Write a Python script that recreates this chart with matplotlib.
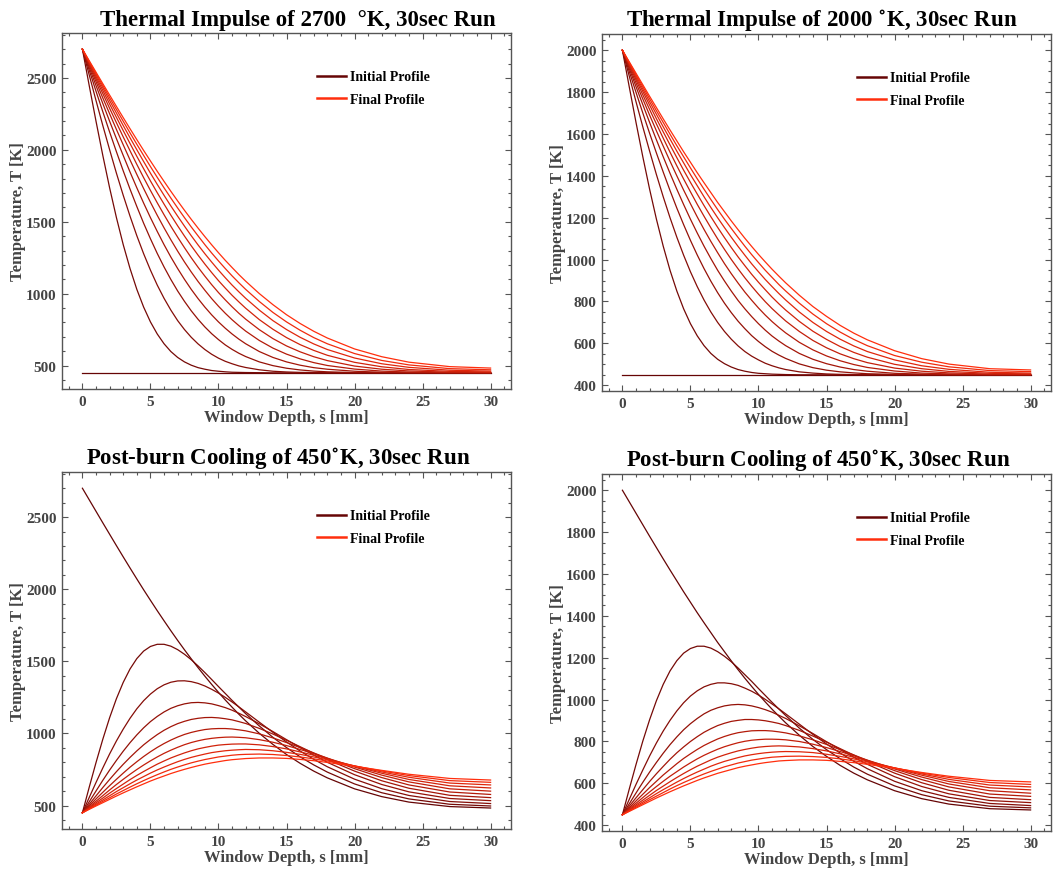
import numpy as np
import matplotlib
matplotlib.use('Agg')
import matplotlib.pyplot as plt
from matplotlib.ticker import MultipleLocator

plt.rcParams['font.family'] = ['Liberation Serif', 'DejaVu Serif']
plt.rcParams['font.weight'] = 'bold'
plt.rcParams['mathtext.fontset'] = 'dejavuserif'

# window depth [mm] at which the profiles were read
depth = [0, 0.5, 1, 1.5, 2, 2.5, 3, 3.5, 4, 4.5, 5, 5.5, 6, 6.5, 7, 7.5, 8, 8.5, 9, 9.5,
         10, 10.5, 11, 11.5, 12, 13, 14, 15, 16, 17, 18, 20, 22, 24, 27, 30]

# heating, 2700 K surface (initial flat profile first, then every 3 s)
heat_2700 = [
    [450] * 36,
    [2700, 2447, 2199, 1961, 1736, 1529, 1341, 1175, 1030, 907, 804, 720, 652, 598, 557, 526, 503, 486, 475, 466, 461, 457, 454, 453, 452, 451, 450, 450, 450, 450, 450, 450, 450, 450, 450, 450],
    [2700, 2521, 2343, 2169, 2001, 1838, 1684, 1539, 1403, 1278, 1164, 1060, 968, 886, 813, 751, 697, 651, 612, 579, 552, 530, 513, 498, 487, 471, 461, 456, 453, 452, 451, 450, 450, 450, 450, 450],
    [2700, 2554, 2408, 2265, 2124, 1987, 1854, 1727, 1606, 1490, 1382, 1280, 1186, 1099, 1019, 947, 881, 822, 769, 722, 681, 644, 613, 586, 563, 526, 500, 482, 470, 462, 457, 452, 451, 450, 450, 450],
    [2700, 2573, 2447, 2322, 2199, 2078, 1961, 1846, 1736, 1630, 1529, 1433, 1341, 1255, 1175, 1100, 1030, 966, 907, 853, 804, 760, 720, 684, 652, 598, 557, 526, 503, 486, 475, 461, 454, 452, 450, 450],
    [2700, 2587, 2474, 2361, 2251, 2142, 2035, 1930, 1829, 1731, 1636, 1545, 1458, 1375, 1296, 1221, 1151, 1085, 1024, 966, 913, 864, 819, 778, 740, 675, 622, 580, 547, 521, 501, 476, 462, 455, 452, 451],
    [2700, 2596, 2493, 2391, 2289, 2189, 2090, 1994, 1899, 1807, 1718, 1632, 1549, 1469, 1393, 1320, 1250, 1184, 1122, 1063, 1008, 957, 909, 864, 823, 750, 688, 637, 596, 562, 535, 497, 475, 463, 454, 452],
    [2700, 2604, 2508, 2413, 2319, 2226, 2134, 2044, 1955, 1869, 1784, 1702, 1623, 1546, 1472, 1401, 1333, 1268, 1206, 1147, 1091, 1039, 989, 943, 899, 820, 753, 695, 646, 606, 572, 523, 492, 473, 460, 456],
    [2700, 2610, 2521, 2432, 2343, 2256, 2169, 2084, 2001, 1919, 1838, 1760, 1684, 1610, 1539, 1470, 1403, 1339, 1278, 1220, 1164, 1111, 1060, 1013, 968, 886, 813, 751, 697, 651, 612, 553, 513, 488, 468, 462],
    [2700, 2615, 2531, 2447, 2363, 2281, 2199, 2118, 2039, 1961, 1884, 1809, 1736, 1665, 1596, 1529, 1464, 1402, 1341, 1283, 1228, 1175, 1124, 1076, 1030, 946, 870, 804, 746, 695, 652, 584, 536, 505, 479, 471],
    [2700, 2620, 2540, 2460, 2381, 2302, 2224, 2147, 2071, 1996, 1923, 1851, 1781, 1712, 1645, 1580, 1517, 1456, 1397, 1340, 1285, 1232, 1182, 1133, 1087, 1001, 924, 854, 793, 739, 692, 616, 562, 524, 493, 483],
]

# heating, 2000 K surface
heat_2000 = [
    [450] * 36,
    [2000, 1826, 1655, 1491, 1336, 1193, 1064, 949, 850, 765, 694, 636, 589, 552, 524, 503, 487, 475, 467, 461, 457, 455, 453, 452, 451, 450, 450, 450, 450, 450, 450, 450, 450, 450, 450, 450],
    [2000, 1877, 1754, 1634, 1518, 1406, 1300, 1200, 1107, 1021, 942, 871, 807, 750, 700, 657, 620, 588, 561, 539, 521, 505, 493, 483, 475, 464, 458, 454, 452, 451, 450, 450, 450, 450, 450, 450],
    [2000, 1899, 1799, 1700, 1603, 1509, 1418, 1330, 1246, 1167, 1092, 1022, 957, 897, 842, 792, 747, 706, 670, 637, 609, 584, 562, 544, 528, 502, 484, 472, 464, 459, 455, 452, 451, 450, 450, 450],
    [2000, 1913, 1826, 1740, 1655, 1572, 1491, 1412, 1336, 1263, 1193, 1127, 1064, 1005, 949, 898, 850, 805, 765, 728, 694, 663, 635, 611, 589, 552, 524, 503, 487, 475, 467, 457, 453, 451, 450, 450],
    [2000, 1922, 1844, 1767, 1690, 1615, 1542, 1470, 1400, 1332, 1267, 1204, 1144, 1087, 1033, 981, 933, 888, 845, 806, 769, 735, 704, 676, 650, 605, 569, 540, 517, 499, 485, 468, 458, 454, 451, 450],
    [2000, 1929, 1858, 1787, 1717, 1648, 1580, 1513, 1448, 1385, 1324, 1264, 1207, 1152, 1099, 1049, 1001, 956, 913, 873, 835, 799, 766, 736, 707, 657, 614, 579, 550, 527, 508, 482, 467, 459, 453, 452],
    [2000, 1934, 1868, 1803, 1738, 1673, 1610, 1548, 1487, 1427, 1369, 1313, 1258, 1205, 1154, 1105, 1058, 1013, 971, 930, 892, 856, 821, 789, 759, 705, 658, 619, 585, 557, 534, 500, 479, 466, 457, 454],
    [2000, 1938, 1877, 1815, 1754, 1694, 1634, 1576, 1518, 1462, 1406, 1353, 1300, 1249, 1200, 1153, 1107, 1063, 1021, 980, 942, 905, 871, 838, 807, 750, 700, 657, 620, 588, 561, 521, 493, 476, 462, 458],
    [2000, 1942, 1884, 1826, 1768, 1711, 1655, 1599, 1544, 1491, 1438, 1386, 1336, 1287, 1239, 1193, 1149, 1106, 1064, 1024, 986, 949, 915, 881, 850, 792, 740, 694, 654, 619, 589, 542, 510, 488, 470, 465],
    [2000, 1945, 1890, 1835, 1780, 1726, 1672, 1619, 1567, 1515, 1465, 1415, 1367, 1320, 1273, 1229, 1185, 1143, 1102, 1063, 1025, 989, 954, 921, 889, 830, 776, 729, 686, 649, 617, 565, 527, 501, 479, 473],
]

# post-burn cooling after the 2700 K run (surface back at 450 K)
cool_2700 = [
    [2700, 2620, 2540, 2460, 2381, 2302, 2224, 2147, 2071, 1996, 1923, 1851, 1781, 1712, 1645, 1580, 1517, 1456, 1397, 1340, 1285, 1232, 1182, 1133, 1087, 1001, 924, 854, 793, 739, 692, 616, 562, 524, 493, 483],
    [450, 627, 798, 960, 1109, 1241, 1354, 1447, 1519, 1571, 1603, 1618, 1618, 1605, 1581, 1549, 1511, 1468, 1422, 1374, 1325, 1277, 1229, 1183, 1137, 1052, 973, 902, 838, 782, 732, 650, 589, 546, 509, 497],
    [450, 556, 660, 761, 858, 948, 1030, 1105, 1171, 1227, 1273, 1310, 1337, 1355, 1364, 1365, 1359, 1347, 1329, 1306, 1280, 1250, 1218, 1184, 1149, 1078, 1008, 941, 878, 821, 769, 683, 617, 570, 528, 514],
    [450, 526, 601, 675, 746, 813, 877, 936, 990, 1039, 1082, 1118, 1149, 1174, 1192, 1205, 1213, 1215, 1212, 1205, 1193, 1179, 1161, 1140, 1117, 1067, 1013, 957, 902, 850, 800, 714, 646, 595, 549, 534],
    [450, 509, 567, 625, 681, 735, 786, 834, 879, 921, 958, 992, 1022, 1047, 1068, 1084, 1097, 1105, 1110, 1111, 1108, 1102, 1094, 1082, 1069, 1035, 996, 953, 908, 863, 819, 739, 672, 620, 571, 555],
    [450, 498, 546, 592, 638, 682, 725, 766, 804, 840, 873, 903, 930, 954, 975, 993, 1007, 1018, 1027, 1032, 1034, 1034, 1031, 1025, 1018, 997, 969, 937, 902, 865, 828, 756, 694, 643, 594, 577],
    [450, 490, 530, 569, 608, 646, 682, 717, 750, 781, 810, 837, 862, 884, 904, 922, 937, 949, 959, 966, 971, 974, 975, 973, 970, 957, 939, 916, 889, 860, 829, 767, 711, 664, 616, 600],
    [450, 484, 519, 552, 586, 618, 649, 680, 709, 736, 762, 787, 809, 830, 848, 865, 880, 893, 903, 912, 919, 923, 926, 927, 927, 921, 909, 893, 872, 849, 825, 773, 724, 681, 637, 622],
    [450, 480, 510, 539, 568, 597, 624, 651, 677, 701, 725, 747, 767, 786, 804, 820, 834, 846, 857, 867, 874, 880, 884, 887, 889, 887, 880, 869, 855, 837, 818, 775, 733, 696, 656, 643],
    [450, 476, 503, 529, 554, 580, 604, 628, 651, 673, 694, 714, 733, 751, 767, 782, 796, 808, 819, 828, 837, 843, 849, 853, 855, 857, 854, 847, 837, 824, 809, 775, 740, 708, 673, 661],
    [450, 474, 497, 520, 543, 566, 588, 609, 630, 650, 670, 688, 705, 722, 737, 751, 764, 776, 787, 796, 804, 812, 818, 822, 826, 830, 830, 827, 820, 811, 799, 772, 744, 717, 688, 677],
]

# post-burn cooling after the 2000 K run
cool_2000 = [
    [2000, 1945, 1890, 1835, 1780, 1726, 1672, 1619, 1567, 1515, 1465, 1415, 1367, 1320, 1273, 1229, 1185, 1143, 1102, 1063, 1025, 989, 954, 921, 889, 830, 776, 729, 686, 649, 617, 565, 527, 501, 479, 473],
    [450, 572, 690, 802, 904, 995, 1073, 1137, 1186, 1222, 1244, 1255, 1255, 1246, 1229, 1207, 1181, 1151, 1119, 1087, 1053, 1020, 987, 955, 924, 864, 810, 761, 718, 678, 644, 588, 546, 516, 491, 483],
    [450, 523, 595, 664, 731, 793, 850, 901, 946, 985, 1017, 1042, 1061, 1073, 1080, 1080, 1076, 1068, 1055, 1040, 1022, 1001, 979, 956, 932, 883, 834, 788, 745, 706, 670, 610, 565, 533, 504, 494],
    [450, 502, 554, 605, 654, 700, 744, 785, 822, 856, 885, 910, 932, 949, 961, 970, 975, 977, 975, 970, 962, 952, 940, 925, 910, 875, 838, 799, 762, 725, 691, 632, 585, 550, 518, 508],
    [450, 491, 531, 570, 609, 646, 681, 715, 746, 774, 800, 823, 844, 861, 876, 887, 896, 901, 905, 905, 903, 899, 893, 886, 876, 853, 826, 797, 766, 735, 705, 649, 603, 567, 533, 522],
    [450, 483, 516, 548, 580, 610, 640, 667, 694, 719, 741, 762, 781, 797, 812, 824, 834, 842, 847, 851, 852, 852, 850, 846, 841, 827, 808, 786, 761, 736, 710, 661, 618, 583, 549, 538],
    [450, 478, 505, 532, 559, 585, 610, 634, 656, 678, 698, 717, 734, 749, 763, 775, 785, 794, 801, 806, 809, 811, 811, 810, 808, 800, 787, 771, 752, 732, 711, 669, 630, 597, 565, 553],
    [450, 474, 497, 520, 543, 566, 587, 608, 628, 647, 665, 682, 697, 712, 725, 736, 746, 755, 762, 768, 773, 776, 778, 779, 778, 774, 766, 755, 741, 725, 708, 673, 639, 609, 579, 569],
    [450, 471, 491, 511, 531, 551, 570, 588, 606, 623, 639, 654, 668, 682, 694, 705, 714, 723, 731, 737, 742, 746, 749, 751, 752, 751, 747, 739, 729, 717, 703, 674, 645, 619, 592, 583],
    [450, 468, 486, 504, 522, 539, 556, 573, 589, 604, 618, 632, 645, 657, 668, 679, 688, 697, 704, 711, 716, 721, 725, 727, 729, 730, 728, 724, 717, 708, 697, 674, 649, 628, 604, 595],
    [450, 466, 482, 498, 514, 530, 545, 560, 574, 588, 601, 614, 626, 637, 648, 657, 666, 675, 682, 688, 694, 699, 703, 707, 709, 712, 712, 710, 705, 699, 691, 672, 652, 634, 614, 607],
]

titles = ['Thermal Impulse of 2700  \u00b0K, 30sec Run',
          'Thermal Impulse of 2000 $^{\\circ}$K, 30sec Run',
          'Post-burn Cooling of 450$^{\\circ}$K, 30sec Run',
          'Post-burn Cooling of 450$^{\\circ}$K, 30sec Run']
title_x = [0.525, 0.49, 0.482, 0.482]

c_start = np.array([0.40, 0.02, 0.02])
c_end = np.array([1.0, 0.18, 0.05])

fig = plt.figure(figsize=(10.57, 8.78), dpi=100)

# axes boxes in pixels: left, top, right, bottom
boxes = [(62, 34, 511, 390), (602, 35, 1051, 392),
         (62, 473, 511, 830), (602, 475, 1051, 832)]
panels = [heat_2700, heat_2000, cool_2700, cool_2000]
t_max = [2700, 2000, 2700, 2000]

for i in range(4):
    l, t, r, b = boxes[i]
    ax = fig.add_axes([l / 1057, (878 - b) / 878, (r - l) / 1057, (b - t) / 878])
    profiles = panels[i]
    n = len(profiles)
    for k, prof in enumerate(profiles):
        c = c_start + (c_end - c_start) * k / (n - 1)
        lbl = None
        if k == 0:
            lbl = 'Initial Profile'
        elif k == n - 1:
            lbl = 'Final Profile'
        ax.plot(depth, prof, color=c, lw=0.9, label=lbl)

    pad = 0.05 * (t_max[i] - 450)
    ax.set_xlim(-1.5, 31.5)
    ax.set_ylim(450 - pad, t_max[i] + pad)
    ax.xaxis.set_major_locator(MultipleLocator(5))
    ax.xaxis.set_minor_locator(MultipleLocator(1))
    if t_max[i] == 2700:
        ax.yaxis.set_major_locator(MultipleLocator(500))
        ax.yaxis.set_minor_locator(MultipleLocator(100))
    else:
        ax.yaxis.set_major_locator(MultipleLocator(200))
        ax.yaxis.set_minor_locator(MultipleLocator(50))
    ax.tick_params(which='both', direction='in', top=True, right=True,
                   color='#555555', labelcolor='#444444', labelsize=11, width=0.8)
    ax.tick_params(which='major', length=4.5, pad=4)
    ax.tick_params(which='minor', length=2.5)
    for s in ax.spines.values():
        s.set_color('#555555')
        s.set_linewidth(1.0)

    ax.set_xlabel('Window Depth, s [mm]', fontsize=12, fontweight='bold', color='#444444', labelpad=1)
    ax.set_ylabel('Temperature, T [K]', fontsize=12, fontweight='bold', color='#444444', labelpad=0)
    ax.set_title(titles[i], fontsize=16.5, fontweight='bold', color='black', pad=6, x=title_x[i])

    leg = ax.legend(loc='upper left', bbox_to_anchor=(0.54, 0.93), frameon=False,
                    fontsize=10, handlelength=2.1, handletextpad=0.3, labelspacing=0.7)
    for h in leg.get_lines():
        h.set_linewidth(1.8)

fig.savefig('out.png', dpi=100)
